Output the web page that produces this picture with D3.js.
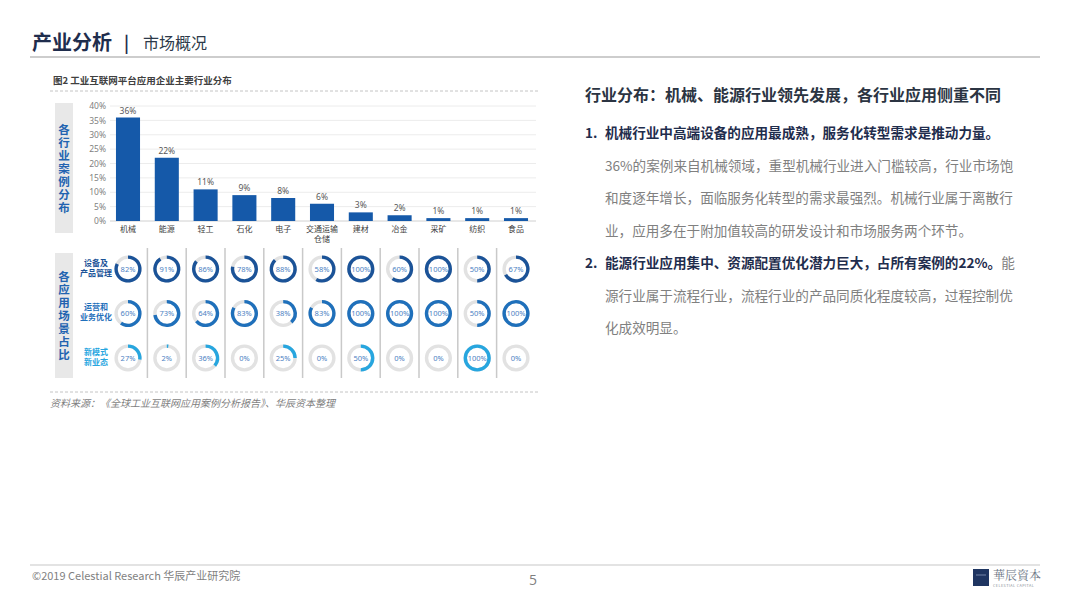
<!DOCTYPE html>
<html>
<head>
<meta charset="utf-8">
<script src="https://cdn.jsdelivr.net/npm/d3@7"></script>
<style>
  body { margin: 0; background: #fff; }
  svg { display: block; font-family: "Noto Sans CJK SC", "Noto Sans", sans-serif; }
</style>
</head>
<body>
<svg width="1080" height="610"></svg>
<script>
// 各行业案例分布
const categories = ["机械", "能源", "轻工", "石化", "电子", "交通运输\n仓储", "建材", "冶金", "采矿", "纺织", "食品"];
const caseShare = [36, 22, 11, 9, 8, 6, 3, 2, 1, 1, 1];
const yTicks = [0, 5, 10, 15, 20, 25, 30, 35, 40];

// 各应用场景占比
const scenes = ["设备及\n产品管理", "运营和\n业务优化", "新模式\n新业态"];
const sceneEquip = [82, 91, 86, 78, 88, 58, 100, 60, 100, 50, 67];
const sceneOps = [60, 73, 64, 83, 38, 83, 100, 100, 100, 50, 100];
const sceneNew = [27, 2, 36, 0, 25, 0, 50, 0, 0, 100, 0];

const svg = d3.select("svg");
const navy = "#1f2d4d";
const gray = "#7f7f7f";

// ---- 页眉
svg.append("text").attr("x", 32).attr("y", 50)
  .attr("font-size", 20).attr("font-weight", "bold").attr("fill", navy).text("产业分析");
svg.append("text").attr("x", 124).attr("y", 49)
  .attr("font-size", 17).attr("font-weight", "bold").attr("fill", navy).text("|");
svg.append("text").attr("x", 143).attr("y", 49)
  .attr("font-size", 16).attr("fill", "#2d3a4a").text("市场概况");
svg.append("line").attr("x1", 30).attr("x2", 1040).attr("y1", 57).attr("y2", 57)
  .attr("stroke", "#bdbdbd").attr("stroke-width", 1.5);

// ---- 图表标题
svg.append("text").attr("x", 53).attr("y", 84)
  .attr("font-size", 9.5).attr("font-weight", "bold").attr("fill", "#404040")
  .text("图2 工业互联网平台应用企业主要行业分布");
[91, 392].forEach(yy => {
  svg.append("line").attr("x1", 50).attr("x2", 540).attr("y1", yy).attr("y2", yy)
    .attr("stroke", "#c4c4c4").attr("stroke-dasharray", "3,2");
});

// ---- 比例尺
const x = d3.scaleBand().domain(categories).range([108.6, 535.4])
  .paddingInner(0.38).paddingOuter(0.19);
const y = d3.scaleLinear().domain([0, 40]).range([221, 106]);

// 左侧竖排标签
function sideLabel(y0, y1, label) {
  svg.append("rect").attr("x", 55).attr("y", y0).attr("width", 18).attr("height", y1 - y0)
    .attr("fill", "#e8e8e8");
  svg.append("text")
    .attr("x", 64).attr("y", (y0 + y1) / 2 + 1)
    .attr("writing-mode", "vertical-rl")
    .attr("text-anchor", "middle").attr("font-size", 11.5).attr("font-weight", "bold")
    .attr("letter-spacing", 1.5)
    .attr("fill", "#2263b0").text(label);
}
sideLabel(103, 233, "各行业案例分布");
sideLabel(253, 378, "各应用场景占比");

// ---- 柱状图
const grid = svg.append("g");
grid.selectAll("line").data(yTicks).join("line")
  .attr("x1", 110).attr("x2", 536)
  .attr("y1", d => y(d)).attr("y2", d => y(d))
  .attr("stroke", d => d === 0 ? "#d0d0d0" : "#ececec");

const yAxis = svg.append("g").attr("transform", "translate(106,0)")
  .call(d3.axisLeft(y).tickValues(yTicks).tickSize(0).tickPadding(0).tickFormat(d => d + "%"));
yAxis.select(".domain").remove();
yAxis.selectAll("text").attr("font-size", 8.5).attr("fill", gray)
  .attr("font-family", "'Noto Sans', sans-serif");

const bars = categories.map((c, i) => ({ c, v: caseShare[i] }));
svg.append("g").selectAll("rect").data(bars).join("rect")
  .attr("x", d => x(d.c)).attr("width", x.bandwidth())
  .attr("y", d => y(d.v)).attr("height", d => y(0) - y(d.v))
  .attr("fill", "#1559a9");

svg.append("g").selectAll("text").data(bars).join("text")
  .attr("x", d => x(d.c) + x.bandwidth() / 2).attr("y", d => y(d.v) - 4)
  .attr("text-anchor", "middle").attr("font-size", 8.5).attr("fill", "#595959")
  .attr("font-family", "'Noto Sans', sans-serif")
  .text(d => d.v + "%");

const catLabels = svg.append("g").selectAll("text").data(categories).join("text")
  .attr("x", d => x(d) + x.bandwidth() / 2).attr("y", 232)
  .attr("text-anchor", "middle").attr("font-size", 8).attr("fill", "#404040");
catLabels.each(function (d) {
  const t = d3.select(this);
  d.split("\n").forEach((s, i) => {
    t.append("tspan").attr("x", x(d) + x.bandwidth() / 2).attr("dy", i ? 10 : 0).text(s);
  });
});

// ---- 应用场景环形图
const sep = svg.append("g");
sep.selectAll("line").data(categories.slice(1)).join("line")
  .attr("x1", d => x(d) - x.step() * x.paddingInner() / 2)
  .attr("x2", d => x(d) - x.step() * x.paddingInner() / 2)
  .attr("y1", 248).attr("y2", 378)
  .attr("stroke", "#c9c9c9").attr("stroke-width", 1.5);

const rowY = d3.scalePoint().domain(scenes).range([269, 358]);
const rowColor = d3.scaleOrdinal().domain(scenes).range(["#1b5398", "#1f70bb", "#27a6df"]);
const rows = [sceneEquip, sceneOps, sceneNew];

const rowLabel = svg.append("g").selectAll("text").data(scenes).join("text")
  .attr("text-anchor", "middle").attr("font-size", 8).attr("font-weight", "bold")
  .attr("fill", d => rowColor(d));
rowLabel.each(function (d) {
  const t = d3.select(this);
  d.split("\n").forEach((s, i) => {
    t.append("tspan").attr("x", 96).attr("y", rowY(d) + (i ? 6.5 : -3.5)).text(s);
  });
});

const arc = d3.arc().innerRadius(10.2).outerRadius(13.6).startAngle(0);
const cells = [];
scenes.forEach((s, r) => categories.forEach((c, i) => cells.push({ s, c, v: rows[r][i] })));

const donut = svg.append("g").selectAll("g").data(cells).join("g")
  .attr("transform", d => `translate(${x(d.c) + x.bandwidth() / 2},${rowY(d.s)})`);
donut.append("circle").attr("r", 11.9).attr("fill", "none")
  .attr("stroke", "#e2e2e2").attr("stroke-width", 3.4);
donut.append("path")
  .attr("d", d => arc({ endAngle: d.v / 100 * 2 * Math.PI }))
  .attr("fill", d => rowColor(d.s));
donut.append("text").attr("text-anchor", "middle").attr("dy", "0.35em")
  .attr("font-size", 7.5).attr("fill", "#4d82c3")
  .attr("font-family", "'Noto Sans', sans-serif")
  .text(d => d.v + "%");

// ---- 资料来源
svg.append("text").attr("x", 50).attr("y", 407)
  .attr("font-size", 10).attr("font-style", "italic").attr("fill", gray)
  .text("资料来源：《全球工业互联网应用案例分析报告》、华辰资本整理");

// ---- 右侧文字
svg.append("text").attr("x", 585).attr("y", 101)
  .attr("font-size", 16).attr("font-weight", "bold").attr("fill", "#2b3442")
  .text("行业分布：机械、能源行业领先发展，各行业应用侧重不同");

const lineY = d3.scaleLinear().domain([0, 6]).range([138, 333]);
function num(i, s) {
  svg.append("text").attr("x", 585).attr("y", lineY(i))
    .attr("font-size", 13.5).attr("font-weight", "bold").attr("fill", navy).text(s);
}
function line(i, parts) {
  const t = svg.append("text").attr("x", 605).attr("y", lineY(i)).attr("font-size", 13.6);
  parts.forEach(p => {
    t.append("tspan").attr("font-weight", p.b ? "bold" : "normal")
      .attr("fill", p.b ? navy : "#808080").text(p.t);
  });
}
num(0, "1.");
line(0, [{ t: "机械行业中高端设备的应用最成熟，服务化转型需求是推动力量。", b: true }]);
line(1, [{ t: "36%的案例来自机械领域，重型机械行业进入门槛较高，行业市场饱" }]);
line(2, [{ t: "和度逐年增长，面临服务化转型的需求最强烈。机械行业属于离散行" }]);
line(3, [{ t: "业，应用多在于附加值较高的研发设计和市场服务两个环节。" }]);
num(4, "2.");
line(4, [{ t: "能源行业应用集中、资源配置优化潜力巨大，占所有案例的22%。", b: true }, { t: "能" }]);
line(5, [{ t: "源行业属于流程行业，流程行业的产品同质化程度较高，过程控制优" }]);
line(6, [{ t: "化成效明显。" }]);

// ---- 页脚
svg.append("line").attr("x1", 30).attr("x2", 1040).attr("y1", 565).attr("y2", 565)
  .attr("stroke", "#c8c8c8").attr("stroke-width", 1.2);
svg.append("text").attr("x", 32).attr("y", 580)
  .attr("font-size", 11).attr("fill", gray).text("©2019 Celestial Research 华辰产业研究院");
svg.append("text").attr("x", 533).attr("y", 585).attr("text-anchor", "middle")
  .attr("font-size", 14).attr("fill", gray).attr("font-family", "'Open Sans', sans-serif").text("5");
svg.append("rect").attr("x", 973).attr("y", 569).attr("width", 16).attr("height", 17)
  .attr("fill", "#1f3561");
svg.append("line").attr("x1", 976).attr("x2", 986).attr("y1", 575).attr("y2", 575)
  .attr("stroke", "#8a9bbb").attr("stroke-width", 0.8);
svg.append("text").attr("x", 993).attr("y", 580)
  .attr("font-size", 12).attr("fill", "#6c7584").attr("font-family", "'Noto Serif CJK SC', 'DejaVu Serif', serif")
  .text("華辰資本");
svg.append("text").attr("x", 993).attr("y", 587)
  .attr("font-size", 3.8).attr("fill", "#8a8f99").attr("letter-spacing", 0.4)
  .text("CELESTIAL CAPITAL");
</script>
</body>
</html>
